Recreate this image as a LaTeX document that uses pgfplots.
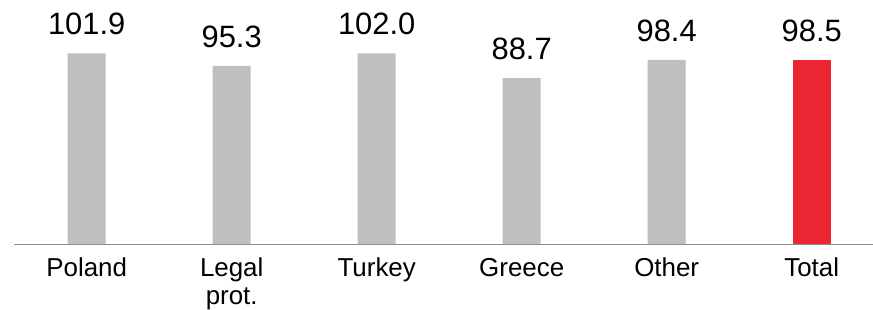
\documentclass[border=0pt]{standalone}
\usepackage{pgfplots}
\pgfplotsset{compat=1.18}
\usepackage{fontspec}
\setmainfont{Liberation Sans}
\definecolor{bargray}{HTML}{BFBFBF}
\definecolor{barred}{HTML}{EC2533}
\definecolor{axgray}{HTML}{8C8C8C}
\begin{document}
\begin{tikzpicture}
\useasboundingbox (0,0) rectangle (873bp,310bp);
\begin{axis}[
  at={(14.2bp,66bp)}, anchor=south west,
  x=145bp, y=1.87bp,
  xmin=-0.5, xmax=5.424, ymin=0, ymax=120,
  axis x line*=bottom, axis y line=none,
  x axis line style={axgray, line width=1bp, -},
  xtick={0,1,2,3,4,5},
  xticklabels={\strut Poland, {\strut Legal\\prot.}, \strut Turkey, \strut Greece, \strut Other, \strut Total},
  major tick length=0pt,
  xticklabel style={anchor=north, inner sep=0pt, yshift=-13bp, align=center,
    font=\fontsize{26}{28}\selectfont},
  ytick=\empty,
  ybar, bar width=38bp, bar shift=0pt,
  nodes near coords={\fontsize{31}{34}\selectfont\pgfmathprintnumber[fixed,fixed zerofill,precision=1,assume math mode=true]{\pgfplotspointmeta}},
  nodes near coords style={anchor=base, inner sep=0pt, yshift=18.5bp, text=black},
  clip=false,
]
\addplot[fill=bargray, draw=none] coordinates {(0,101.9) (1,95.3) (2,102.0) (3,88.7) (4,98.4)};
\addplot[fill=barred, draw=none] coordinates {(5,98.5)};
\end{axis}
\end{tikzpicture}
\end{document}
